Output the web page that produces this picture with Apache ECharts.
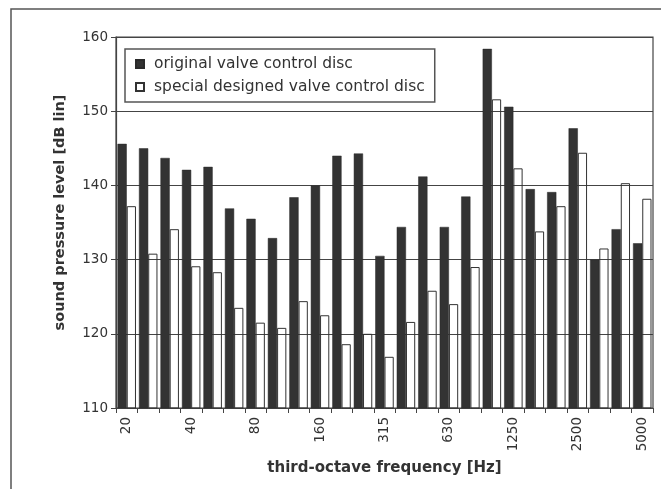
<!DOCTYPE html>
<html>
<head>
<meta charset="utf-8">
<script src="https://cdn.jsdelivr.net/npm/echarts@6/dist/echarts.min.js"></script>
<style>
  html, body { margin: 0; padding: 0; background: #fff; }
  #chart { width: 661px; height: 489px; }
</style>
</head>
<body>
<div id="chart"></div>
<script>
// Third-octave band centre frequencies [Hz]
const frequencies = ['20', '25', '31.5', '40', '50', '63', '80', '100', '125', '160', '200', '250',
  '315', '400', '500', '630', '800', '1000', '1250', '1600', '2000', '2500', '3150', '4000', '5000'];

// Sound pressure level [dB lin] per band
const originalDisc = [145.6, 145.0, 143.7, 142.1, 142.5, 136.9, 135.5, 132.9, 138.4, 140.0, 144.0, 144.3,
  130.5, 134.4, 141.2, 134.4, 138.5, 158.4, 150.6, 139.5, 139.1, 147.7, 130.0, 134.1, 132.2];
const specialDisc = [137.2, 130.8, 134.1, 129.1, 128.3, 123.5, 121.5, 120.8, 124.4, 122.5, 118.6, 120.0,
  116.9, 121.6, 125.8, 124.0, 129.0, 151.6, 142.3, 133.8, 137.2, 144.4, 131.5, 140.3, 138.2];

const seriesNames = ['original valve control disc', 'special designed valve control disc'];
const yTicks = { min: 110, max: 160, step: 10 };

const FONT = '"DejaVu Sans", "Open Sans", sans-serif';
const INK = '#333';

const chart = echarts.init(document.getElementById('chart'), null, { renderer: 'canvas' });

chart.setOption({
  animation: false,
  backgroundColor: '#fff',
  graphic: [{
    type: 'rect',
    shape: { x: 11, y: 9, width: 720, height: 540 },
    style: { fill: 'none', stroke: '#555', lineWidth: 1.5 },
    silent: true,
    z: -1
  }],
  grid: {
    left: 116, right: 8, top: 37, bottom: 81,
    show: true,
    borderColor: '#444',
    borderWidth: 1.2,
    backgroundColor: 'transparent'
  },
  legend: {
    orient: 'vertical',
    left: 125,
    top: 49,
    padding: [6, 10, 6, 10],
    itemGap: 5,
    itemWidth: 8,
    itemHeight: 8,
    icon: 'rect',
    backgroundColor: '#fff',
    borderColor: '#555',
    borderWidth: 1.5,
    textStyle: {
      fontFamily: FONT, fontSize: 15.5, color: INK,
      lineHeight: 18, padding: [0, 0, 0, 5]
    },
    data: seriesNames
  },
  xAxis: {
    type: 'category',
    data: frequencies,
    boundaryGap: true,
    name: 'third-octave frequency [Hz]',
    nameLocation: 'middle',
    nameGap: 53,
    nameTextStyle: { fontFamily: FONT, fontSize: 15, fontWeight: 'bold', color: INK },
    axisLine: { show: true, lineStyle: { color: '#444', width: 1.2 } },
    axisTick: { show: true, interval: 0, length: 5, lineStyle: { color: '#444' } },
    axisLabel: {
      interval: 2,
      rotate: 90,
      margin: 9,
      fontFamily: FONT,
      fontSize: 13.5,
      color: INK
    },
    splitLine: { show: false }
  },
  yAxis: {
    type: 'value',
    min: yTicks.min,
    max: yTicks.max,
    interval: yTicks.step,
    name: 'sound pressure level [dB lin]',
    nameLocation: 'middle',
    nameGap: 48,
    nameRotate: 90,
    nameTextStyle: { fontFamily: FONT, fontSize: 14.5, fontWeight: 'bold', color: INK, padding: [0, 0, 0, 20] },
    axisLine: { show: true, lineStyle: { color: '#444', width: 1.2 } },
    axisTick: { show: true, length: 5, lineStyle: { color: '#444' } },
    axisLabel: { fontFamily: FONT, fontSize: 13.5, color: INK, margin: 8 },
    splitLine: { show: true, lineStyle: { color: '#444', width: 1.2 } }
  },
  series: [
    {
      name: seriesNames[0],
      type: 'bar',
      data: originalDisc,
      barGap: '0%',
      barCategoryGap: '14%',
      itemStyle: { color: '#333', borderColor: '#2a2a2a', borderWidth: 0.5 }
    },
    {
      name: seriesNames[1],
      type: 'bar',
      data: specialDisc,
      barGap: '0%',
      barCategoryGap: '14%',
      itemStyle: { color: 'rgba(255,255,255,0)', borderColor: '#333', borderWidth: 1 }
    }
  ]
});
</script>
</body>
</html>
